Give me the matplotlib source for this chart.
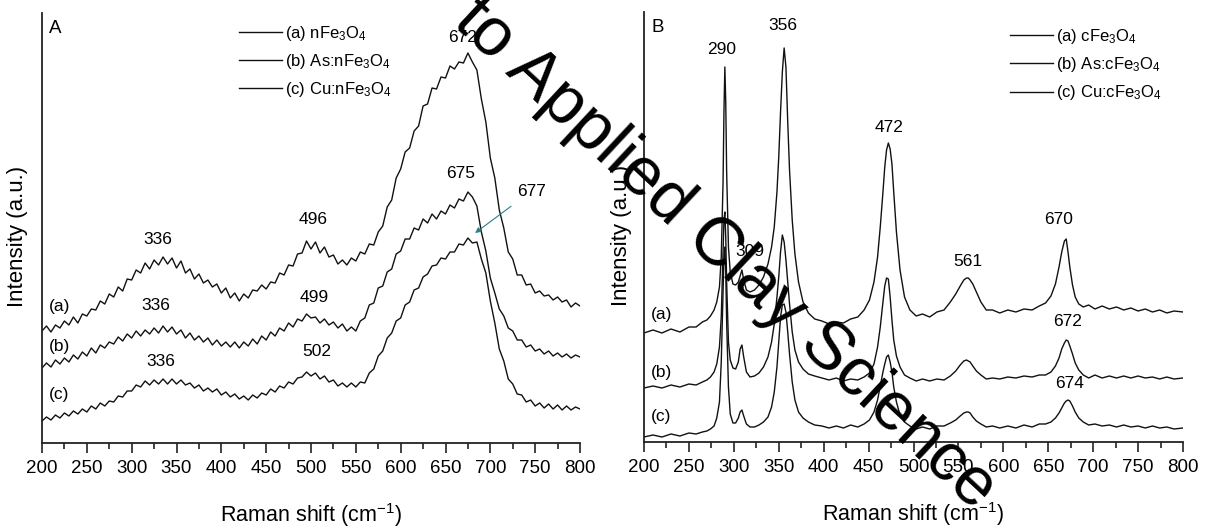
"""Raman spectra of n-/c-Fe3O4 before and after As / Cu sorption (panels A and B)."""
import numpy as np
import matplotlib
matplotlib.use("Agg")
import matplotlib.pyplot as plt
from matplotlib.ticker import MultipleLocator

plt.rcParams["font.family"] = ["Liberation Sans", "DejaVu Sans"]
plt.rcParams["mathtext.fontset"] = "custom"
plt.rcParams["mathtext.rm"] = "Liberation Sans"
plt.rcParams["mathtext.it"] = "Liberation Sans:italic"
plt.rcParams["mathtext.default"] = "regular"

# ---- panel A: nano magnetite, 5 cm-1 steps from 200 to 800 ----
wn_a = np.arange(200, 801, 5)
nfe_a = [112, 117, 111, 118, 115, 122, 118, 126, 120, 129, 127, 134, 133, 142, 139, 149,
         146, 156, 152, 164, 163, 173, 170, 180, 174, 183, 178, 186, 179, 185, 175, 182,
         170, 174, 164, 169, 160, 163, 156, 159, 150, 155, 145, 150, 142, 149, 145, 153,
         152, 158, 154, 161, 160, 170, 168, 178, 177, 189, 190, 202, 194, 201, 190, 196,
         186, 188, 179, 183, 178, 185, 182, 191, 189, 199, 198, 211, 217, 236, 243, 265,
         274, 291, 295, 312, 317, 337, 339, 355, 354, 366, 365, 377, 374, 381, 380, 390,
         381, 373, 344, 321, 285, 265, 233, 215, 191, 184, 168, 168, 158, 159, 150, 152,
         147, 148, 143, 146, 141, 143, 136, 140, 137]
as_nfe = [75, 80, 76, 83, 79, 85, 81, 88, 84, 91, 87, 95, 90, 98, 95, 101,
          99, 106, 102, 109, 105, 112, 107, 113, 109, 115, 110, 117, 111, 116, 109, 113,
          105, 110, 103, 107, 101, 105, 98, 103, 97, 101, 96, 101, 95, 101, 97, 104,
          99, 107, 103, 111, 107, 115, 112, 120, 116, 124, 122, 129, 125, 126, 120, 124,
          118, 121, 115, 119, 112, 116, 112, 122, 125, 138, 140, 155, 157, 171, 174, 189,
          192, 204, 204, 215, 213, 224, 220, 229, 224, 232, 229, 238, 235, 244, 242, 251,
          246, 237, 211, 192, 165, 150, 134, 127, 115, 112, 103, 103, 96, 98, 92, 94,
          89, 92, 87, 90, 86, 89, 85, 88, 86]
cu_nfe = [22, 26, 23, 28, 25, 30, 27, 32, 29, 34, 31, 37, 34, 40, 37, 42,
          41, 47, 46, 52, 52, 58, 56, 62, 58, 63, 59, 64, 59, 64, 59, 63,
          58, 60, 55, 58, 52, 55, 51, 54, 48, 51, 46, 49, 44, 47, 43, 48,
          45, 50, 48, 54, 51, 57, 55, 61, 59, 65, 66, 71, 67, 70, 64, 67,
          61, 63, 57, 60, 56, 60, 56, 61, 60, 70, 74, 87, 92, 105, 110, 122,
          125, 138, 141, 153, 155, 166, 169, 177, 178, 185, 184, 191, 191, 199, 198, 205,
          200, 201, 184, 170, 142, 120, 94, 82, 64, 59, 49, 48, 41, 43, 37, 40,
          35, 39, 34, 38, 33, 37, 33, 36, 34]

# ---- panel B: commercial magnetite, denser sampling around the sharp bands ----
wn_b = [200, 210, 220, 230, 240, 250, 258, 265, 270, 274,
        278, 281, 284, 286, 288, 289, 290, 291, 292, 294,
        296, 299, 302, 305, 307, 309, 311, 314, 318, 323,
        328, 333, 338, 342, 345, 348, 350, 352, 354, 356,
        358, 360, 362, 365, 368, 372, 377, 383, 390, 398,
        406, 414, 422, 430, 438, 445, 451, 456, 460, 463,
        466, 468, 470, 472, 474, 476, 478, 481, 485, 490,
        496, 503, 510, 518, 526, 534, 541, 547, 552, 556,
        559, 561, 563, 566, 570, 575, 581, 588, 596, 605,
        614, 623, 632, 640, 647, 653, 658, 662, 665, 668,
        670, 672, 674, 677, 680, 684, 689, 695, 702, 710,
        718, 726, 734, 742, 750, 758, 766, 774, 782, 790, 800]
cfe_b = [109, 112, 109, 113, 110, 115, 115, 120, 122, 126,
         132, 140, 155, 185, 260, 330, 375, 340, 270, 195,
         170, 158, 157, 160, 166, 172, 162, 152, 150, 152,
         157, 165, 178, 195, 215, 250, 285, 330, 370, 394,
         375, 320, 272, 222, 188, 160, 140, 129, 123, 121,
         118, 120, 119, 123, 125, 132, 142, 160, 185, 215,
         250, 275, 292, 299, 293, 278, 250, 210, 172, 145,
         132, 126, 128, 125, 130, 132, 140, 148, 156, 162,
         164, 164, 162, 158, 150, 140, 132, 132, 129, 132,
         130, 133, 132, 136, 139, 146, 158, 175, 190, 201,
         203, 190, 175, 157, 145, 138, 135, 137, 133, 136,
         133, 135, 132, 134, 131, 133, 130, 132, 129, 131, 130]
as_cfe = [54, 56, 54, 57, 55, 58, 57, 60, 62, 65,
          70, 78, 95, 125, 190, 222, 230, 205, 160, 100,
          82, 74, 73, 80, 93, 97, 85, 70, 65, 66,
          69, 75, 85, 100, 118, 145, 165, 190, 207, 200,
          182, 160, 138, 110, 92, 80, 73, 68, 66, 64,
          62, 64, 61, 63, 62, 65, 69, 78, 95, 115,
          140, 156, 164, 163, 145, 122, 102, 86, 75, 67,
          64, 61, 63, 61, 63, 62, 66, 71, 77, 81,
          82, 81, 80, 76, 71, 67, 63, 64, 63, 65,
          64, 66, 65, 67, 67, 70, 76, 84, 93, 99,
          102, 101, 96, 88, 79, 72, 67, 64, 67, 64,
          66, 64, 66, 64, 66, 64, 65, 63, 65, 63, 64]
cu_cfe = [5, 7, 5, 8, 6, 9, 8, 10, 11, 13,
          16, 24, 40, 80, 150, 185, 195, 170, 120, 55,
          28, 19, 19, 24, 30, 32, 26, 18, 15, 15,
          17, 20, 25, 35, 50, 75, 100, 125, 137, 138,
          130, 110, 88, 60, 42, 30, 24, 20, 17, 16,
          14, 16, 14, 17, 15, 18, 22, 30, 42, 56,
          70, 78, 85, 87, 80, 70, 55, 40, 27, 20,
          16, 13, 15, 13, 16, 16, 19, 22, 26, 29,
          30, 30, 29, 25, 21, 18, 15, 16, 14, 16,
          14, 17, 15, 18, 18, 20, 24, 29, 34, 39,
          41, 42, 41, 36, 30, 24, 20, 17, 18, 16,
          17, 15, 17, 15, 16, 14, 16, 14, 15, 13, 14]

labels_a = ["(a) nFe$_3$O$_4$", "(b) As:nFe$_3$O$_4$", "(c) Cu:nFe$_3$O$_4$"]
labels_b = ["(a) cFe$_3$O$_4$", "(b) As:cFe$_3$O$_4$", "(c) Cu:cFe$_3$O$_4$"]

# band labels: (text, wavenumber, height)
peaks_a = [("336", 329, 203), ("496", 502, 223), ("672", 669, 406), ("675", 667, 270),
           ("336", 327, 138), ("499", 504, 146), ("336", 333, 81), ("502", 506, 91)]
peaks_b = [("290", 286, 393), ("356", 355, 417), ("472", 473, 315), ("309", 318, 191),
           ("561", 560, 181), ("670", 662, 223), ("672", 672, 120), ("674", 674, 58)]
trace_tags_a = [("(a)", 136), ("(b)", 96), ("(c)", 48)]
trace_tags_b = [("(a)", 127), ("(b)", 70), ("(c)", 25)]

W, H = 1205, 528
fig = plt.figure(figsize=(W / 100, H / 100), dpi=100)
axA = fig.add_axes([42 / W, (H - 443) / H, 538 / W, 430 / H])
axB = fig.add_axes([644 / W, (H - 442) / H, 539 / W, 430 / H])


def style(ax, letter, ylab_x):
    ax.set_xlim(200, 800)
    ax.set_ylim(0, 430)
    for s in ("top", "right"):
        ax.spines[s].set_visible(False)
    for s in ("left", "bottom"):
        ax.spines[s].set_linewidth(1.3)
        ax.spines[s].set_color("#222222")
    ax.set_yticks([])
    ax.xaxis.set_major_locator(MultipleLocator(50))
    ax.xaxis.set_minor_locator(MultipleLocator(25))
    ax.tick_params(axis="x", which="major", direction="out", length=7, width=1.2,
                   labelsize=13.5, pad=5, color="#222222")
    ax.tick_params(axis="x", which="minor", direction="out", length=4, width=1.2,
                   color="#222222")
    ax.set_xlabel("Raman shift (cm$^{-1}$)", fontsize=15.5, va="center")
    ax.xaxis.set_label_coords(0.5, -(515 - 443) / 430)
    ax.set_ylabel("Intensity (a.u.)", fontsize=16, va="center")
    ax.yaxis.set_label_coords(ylab_x, 0.48)
    ax.text(0.025, 0.965, letter, transform=ax.transAxes, fontsize=13.5,
            ha="center", va="center")


for ax, x, ys, labs in [(axA, wn_a, [nfe_a, as_nfe, cu_nfe], labels_a),
                        (axB, wn_b, [cfe_b, as_cfe, cu_cfe], labels_b)]:
    for y, lab in zip(ys, labs):
        ax.plot(x, y, color="#111111", lw=1.0, label=lab)

style(axA, "A", -0.045)
style(axB, "B", -0.041)

for ax, peaks, tags in [(axA, peaks_a, trace_tags_a), (axB, peaks_b, trace_tags_b)]:
    for txt, xw, yh in peaks:
        ax.text(xw, yh, txt, fontsize=12.5, ha="center", va="center")
    for txt, yh in tags:
        ax.text(0.012, yh, txt, transform=ax.get_yaxis_transform(), fontsize=12.5,
                ha="left", va="center")

axA.annotate("677", xy=(683, 210), xytext=(746, 252), fontsize=12.5,
             ha="center", va="center",
             arrowprops=dict(arrowstyle="-|>", color="#2c7f8c", lw=0.8,
                             mutation_scale=8, shrinkA=6, shrinkB=0))

axA.legend(loc="upper left", bbox_to_anchor=(0.366, 0.975), frameon=False,
           fontsize=12, handlelength=2.6, handletextpad=0.15, labelspacing=0.55,
           borderpad=0, borderaxespad=0)
axB.legend(loc="upper left", bbox_to_anchor=(0.679, 0.965), frameon=False,
           fontsize=12, handlelength=2.6, handletextpad=0.15, labelspacing=0.55,
           borderpad=0, borderaxespad=0)

# diagonal watermark of the preprint
fig.text(452 / W, 1 - 24 / H, "to Applied Clay Science", fontsize=49, rotation=-43,
         rotation_mode="anchor", ha="left", va="baseline", color="black")

fig.savefig("out.png", dpi=100)
